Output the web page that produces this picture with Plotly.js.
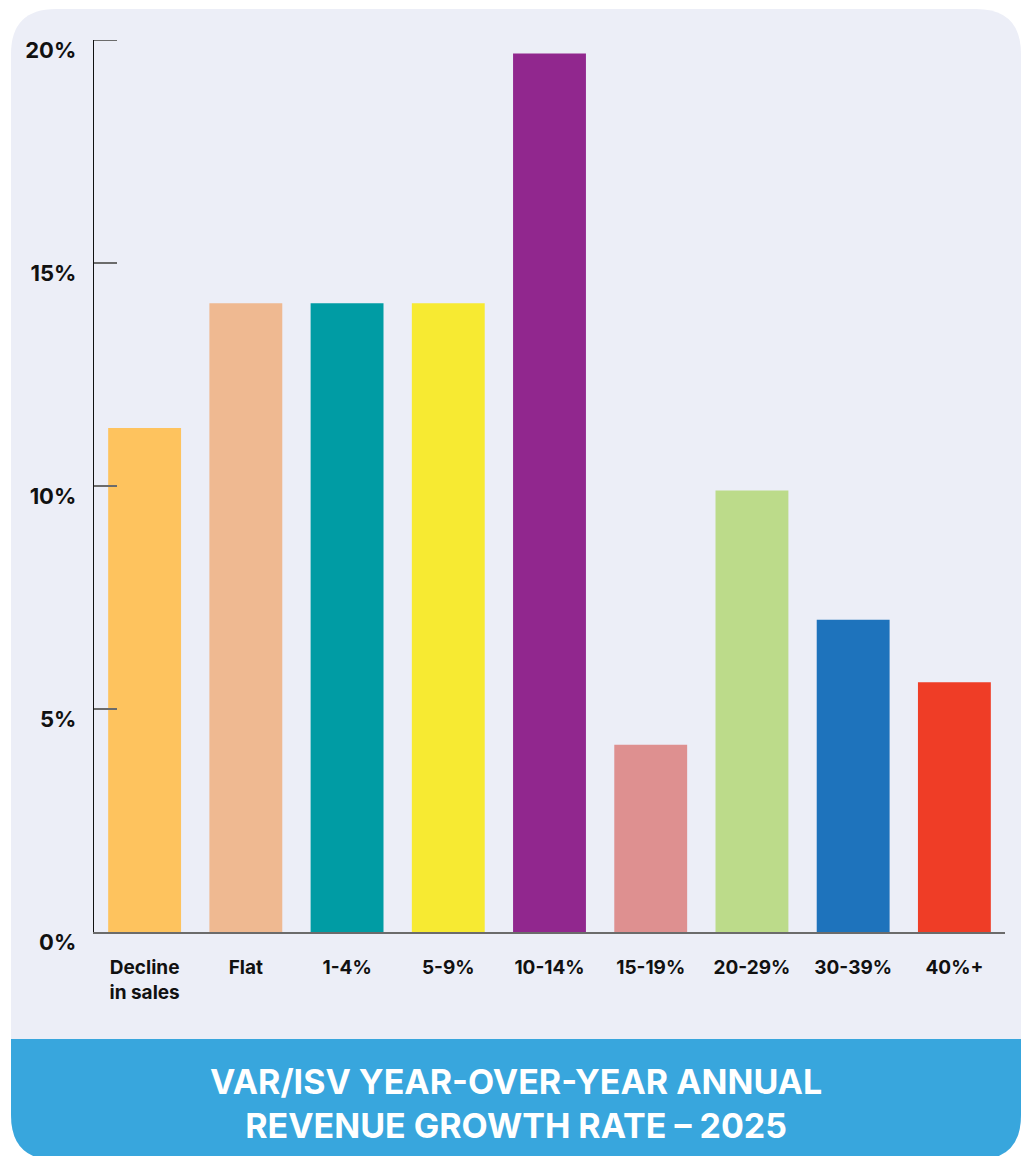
<!DOCTYPE html>
<html>
<head>
<meta charset="utf-8">
<script src="https://cdn.plot.ly/plotly-3.0.1.min.js"></script>
<style>
  html, body { margin: 0; padding: 0; background: #ffffff; }
  #chart { width: 1026px; height: 1156px; }
</style>
</head>
<body>
<div id="chart"></div>
<script>
// ---- data ----
const categories = ["Decline<br>in sales", "Flat", "1-4%", "5-9%", "10-14%", "15-19%", "20-29%", "30-39%", "40%+"];
const values = [11.3, 14.1, 14.1, 14.1, 19.7, 4.2, 9.9, 7.0, 5.6];
const barColors = ["#fec35e", "#efb991", "#009ca4", "#f7ea32", "#91278e", "#de9090", "#bcdb8a", "#1e73bc", "#ef3d26"];
const tickValues = [0, 5, 10, 15, 20];
const tickLabels = ["0%", "5%", "10%", "15%", "20%"];
const titleText = "VAR/ISV YEAR-OVER-YEAR ANNUAL<br>REVENUE GROWTH RATE – 2025";

// ---- geometry (pixels) ----
const W = 1026, H = 1156;
const M = { l: 94, r: 21, t: 40, b: 224 };
const pw = W - M.l - M.r, ph = H - M.t - M.b;
const px = x => (x - M.l) / pw;
const py = y => (H - M.b - y) / ph;

function roundRect(x0, y0, x1, y1, rTop, rBot) {
  return [
    `M ${px(x0 + rTop)} ${py(y0)}`,
    `L ${px(x1 - rTop)} ${py(y0)}`,
    `Q ${px(x1)} ${py(y0)} ${px(x1)} ${py(y0 + rTop)}`,
    `L ${px(x1)} ${py(y1 - rBot)}`,
    `Q ${px(x1)} ${py(y1)} ${px(x1 - rBot)} ${py(y1)}`,
    `L ${px(x0 + rBot)} ${py(y1)}`,
    `Q ${px(x0)} ${py(y1)} ${px(x0)} ${py(y1 - rBot)}`,
    `L ${px(x0)} ${py(y0 + rTop)}`,
    `Q ${px(x0)} ${py(y0)} ${px(x0 + rTop)} ${py(y0)}`,
    "Z"
  ].join(" ");
}

const FONT = "Inter, 'Open Sans', sans-serif";
const topTick = tickValues[tickValues.length - 1];

const trace = {
  type: "bar",
  x: categories,
  y: values,
  marker: { color: barColors, line: { width: 0 } },
  hoverinfo: "x+y"
};

const layout = {
  width: W, height: H,
  margin: M,
  paper_bgcolor: "#ffffff",
  plot_bgcolor: "rgba(0,0,0,0)",
  showlegend: false,
  bargap: 0.28,
  font: { family: FONT, color: "#111111" },
  xaxis: {
    type: "category",
    range: [-0.5, 8.5],
    showline: true, linecolor: "#6b6b6b", linewidth: 2,
    showgrid: false, zeroline: false,
    ticks: "",
    tickfont: { family: FONT, size: 19, color: "#111111", weight: 700 },
    ticklabelstandoff: 17,
    fixedrange: true
  },
  yaxis: {
    range: [0, 20],
    tickvals: tickValues,
    ticktext: tickLabels,
    showline: true, linecolor: "#111111", linewidth: 1.3,
    showgrid: false, zeroline: false,
    ticks: "inside", ticklen: 23, tickwidth: 2, tickcolor: "#6b6b6b",
    tickfont: { family: FONT, size: 22, color: "#111111", weight: 700 },
    ticklabelstandoff: 12,
    ticklabelshift: 10,
    fixedrange: true
  },
  shapes: [
    {
      type: "path", xref: "paper", yref: "paper", layer: "below",
      path: roundRect(11, 9, 1021, 1160, 45, 45),
      fillcolor: "#eceef7", line: { width: 0 }
    },
    {
      type: "path", xref: "paper", yref: "paper", layer: "below",
      path: roundRect(11, 1039, 1021, 1160, 0, 45),
      fillcolor: "#38a6dd", line: { width: 0 }
    },
    {
      type: "line", xref: "paper", yref: "y", layer: "above",
      x0: 0, x1: px(117), y0: topTick, y1: topTick,
      line: { color: "#6b6b6b", width: 2 }
    }
  ],
  annotations: [
    {
      xref: "paper", yref: "paper",
      x: px(516), y: py(1103),
      xanchor: "center", yanchor: "middle",
      text: titleText,
      showarrow: false,
      align: "center",
      font: { family: FONT, size: 34, color: "#ffffff", weight: 700 }
    }
  ]
};

Plotly.newPlot("chart", [trace], layout, { displayModeBar: false, staticPlot: true });
</script>
</body>
</html>
